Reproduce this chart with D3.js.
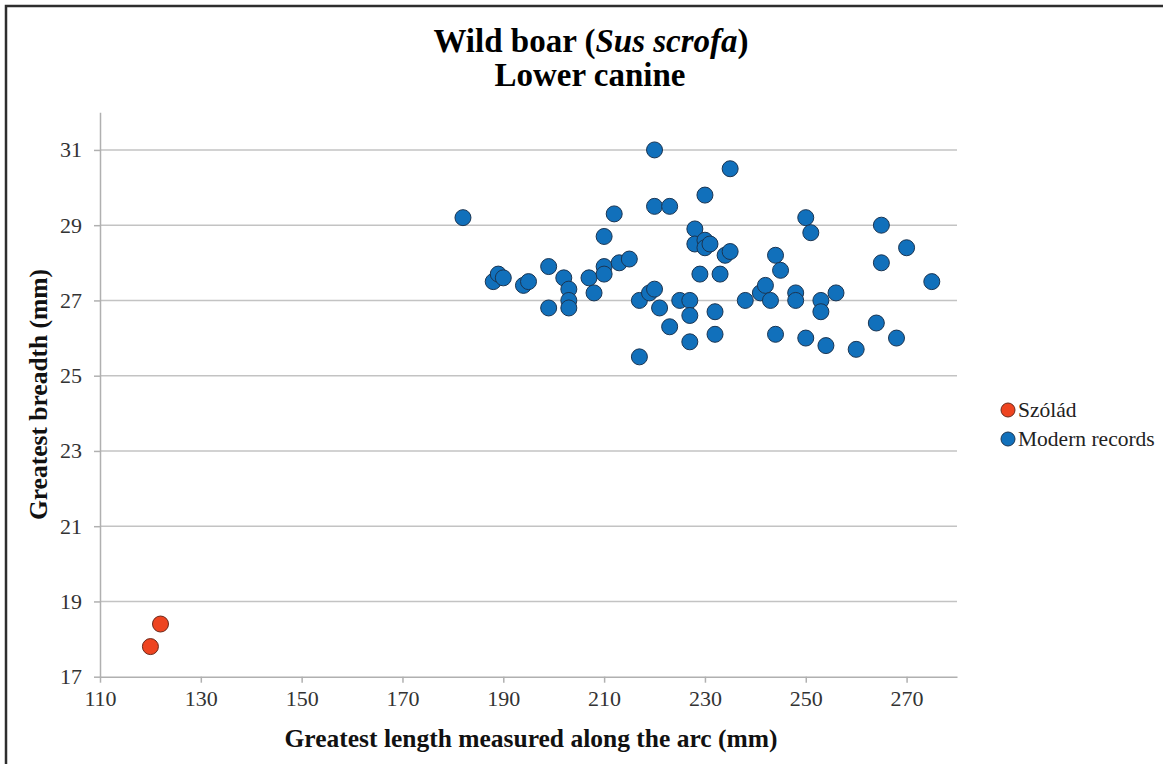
<!DOCTYPE html>
<html>
<head>
<meta charset="utf-8">
<script src="https://cdn.jsdelivr.net/npm/d3@7"></script>
<style>
  html, body { margin: 0; padding: 0; background: #fff; }
  svg { display: block; }
</style>
</head>
<body>
<svg id="chart" width="1163" height="764"></svg>
<script>
// ---- data ----
const xTicks = [110, 130, 150, 170, 190, 210, 230, 250, 270];
const yTicks = [17, 19, 21, 23, 25, 27, 29, 31];
const seriesNames = ["Szólád", "Modern records"];

const szoladX = [120, 122];
const szoladY = [17.8, 18.4];

const modernX = [182, 188, 189, 190, 194, 195, 199, 199, 202, 203, 203, 203, 207, 208, 210, 210, 210, 212, 213, 215,
  217, 217, 219, 220, 221, 220, 220, 223, 223, 225, 227, 227, 227, 235, 230, 228, 228, 230, 230, 231,
  234, 235, 229, 233, 232, 232, 238, 241, 242, 243, 244, 245, 244, 248, 248, 250, 251, 250, 253, 253,
  256, 254, 260, 264, 265, 265, 268, 270, 275];
const modernY = [29.2, 27.5, 27.7, 27.6, 27.4, 27.5, 27.9, 26.8, 27.6, 27.3, 27.0, 26.8, 27.6, 27.2, 28.7, 27.9, 27.7, 29.3, 28.0, 28.1,
  27.0, 25.5, 27.2, 27.3, 26.8, 31.0, 29.5, 29.5, 26.3, 27.0, 27.0, 26.6, 25.9, 30.5, 29.8, 28.9, 28.5, 28.6, 28.4, 28.5,
  28.2, 28.3, 27.7, 27.7, 26.7, 26.1, 27.0, 27.2, 27.4, 27.0, 28.2, 27.8, 26.1, 27.2, 27.0, 29.2, 28.8, 26.0, 27.0, 26.7,
  27.2, 25.8, 25.7, 26.4, 29.0, 28.0, 26.0, 28.4, 27.5];

const colors = { szolad: "#ee4420", modern: "#1170bb" };
const strokes = { szolad: "#6a2a1c", modern: "#1b3552" };
const SERIF = "'Liberation Serif', 'Times New Roman', 'DejaVu Serif', serif";

// ---- layout ----
const svg = d3.select("#chart");
svg.append("rect").attr("width", 1163).attr("height", 764).attr("fill", "#fff");
svg.append("path").attr("d", "M6,764 L6,6 L1163,6").attr("fill", "none")
  .attr("stroke", "#2e2e2e").attr("stroke-width", 2.5);

const x = d3.scaleLinear().domain([110, 280]).range([100, 957]);
const y = d3.scaleLinear().domain([17, 32]).range([676.7, 112.3]);

// gridlines
svg.append("g").selectAll("line").data(yTicks.filter(d => d > 17)).join("line")
  .attr("x1", x(110)).attr("x2", x(280))
  .attr("y1", d => y(d)).attr("y2", d => y(d))
  .attr("stroke", "#c3c3c3").attr("stroke-width", 1.5);

// x axis
const xAxis = d3.axisBottom(x).tickValues(xTicks).tickSize(6).tickSizeOuter(0).tickPadding(8);
const gx = svg.append("g").attr("transform", `translate(0,${y(17)})`).call(xAxis);
gx.select(".domain").attr("stroke", "#b0b0b0").attr("stroke-width", 1.5);
gx.selectAll(".tick line").attr("stroke", "#b0b0b0").attr("stroke-width", 1.5);
gx.selectAll(".tick text").attr("font-family", SERIF).attr("font-size", 22)
  .attr("fill", "#333");

// y axis
const yAxis = d3.axisLeft(y).tickValues(yTicks).tickSize(6).tickSizeOuter(0).tickPadding(12);
const gy = svg.append("g").attr("transform", `translate(${x(110)},0)`).call(yAxis);
gy.select(".domain").attr("stroke", "#b0b0b0").attr("stroke-width", 1.5);
gy.selectAll(".tick line").attr("stroke", "#b0b0b0").attr("stroke-width", 1.5);
gy.selectAll(".tick text").attr("font-family", SERIF).attr("font-size", 22)
  .attr("fill", "#333");

// points
const szolad = szoladX.map((v, i) => ({ x: v, y: szoladY[i] }));
const modern = modernX.map((v, i) => ({ x: v, y: modernY[i] }));

svg.append("g").selectAll("circle").data(szolad).join("circle")
  .attr("cx", d => x(d.x)).attr("cy", d => y(d.y)).attr("r", 8)
  .attr("fill", colors.szolad).attr("stroke", strokes.szolad).attr("stroke-width", 1);
svg.append("g").selectAll("circle").data(modern).join("circle")
  .attr("cx", d => x(d.x)).attr("cy", d => y(d.y)).attr("r", 8)
  .attr("fill", colors.modern).attr("stroke", strokes.modern).attr("stroke-width", 1);

// title
const title = svg.append("text").attr("x", 591).attr("y", 52).attr("text-anchor", "middle")
  .attr("font-family", SERIF).attr("font-size", 33).attr("font-weight", "bold").attr("fill", "#000");
title.append("tspan").text("Wild boar (");
title.append("tspan").attr("font-style", "italic").text("Sus scrofa");
title.append("tspan").text(")");
svg.append("text").attr("x", 590).attr("y", 86).attr("text-anchor", "middle")
  .attr("font-family", SERIF).attr("font-size", 33).attr("font-weight", "bold").attr("fill", "#000")
  .text("Lower canine");

// axis titles
svg.append("text").attr("x", 531).attr("y", 747).attr("text-anchor", "middle")
  .attr("font-family", SERIF).attr("font-size", 25.5).attr("font-weight", "bold").attr("fill", "#111")
  .text("Greatest length measured along the arc (mm)");
svg.append("text").attr("transform", `translate(47,${(y(17) + y(32)) / 2}) rotate(-90)`)
  .attr("text-anchor", "middle")
  .attr("font-family", SERIF).attr("font-size", 25.5).attr("font-weight", "bold").attr("fill", "#111")
  .text("Greatest breadth (mm)");

// legend
const legend = svg.append("g");
const legendItems = [
  { name: seriesNames[0], fill: colors.szolad, stroke: strokes.szolad },
  { name: seriesNames[1], fill: colors.modern, stroke: strokes.modern }
];
legendItems.forEach((d, i) => {
  const ly = 410 + i * 29;
  legend.append("circle").attr("cx", 1008).attr("cy", ly).attr("r", 7)
    .attr("fill", d.fill).attr("stroke", d.stroke).attr("stroke-width", 1);
  legend.append("text").attr("x", 1018).attr("y", ly + 7).attr("font-family", SERIF)
    .attr("font-size", 21.5).attr("fill", "#222").text(d.name);
});
</script>
</body>
</html>
